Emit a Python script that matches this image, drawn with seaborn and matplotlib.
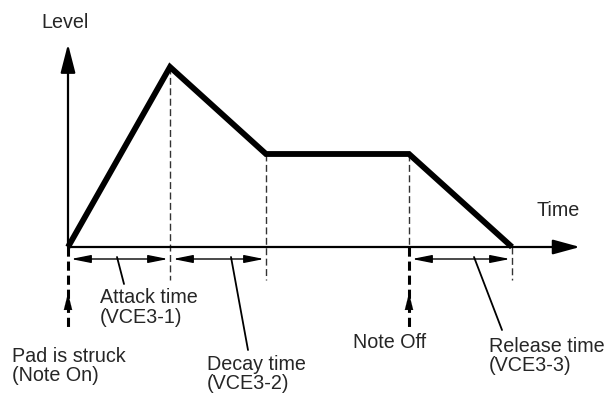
import numpy as np
import pandas as pd
import matplotlib
matplotlib.use("Agg")
import matplotlib.pyplot as plt
import seaborn as sns

# envelope points (time, level)
env_time = [0, 102, 198, 341, 444]
env_level = [0, 180, 93, 93, 0]
stage_names = ["Attack", "Decay", "Sustain", "Release"]

# stage boundaries marked with dashed lines
attack_end = env_time[1]
decay_end = env_time[2]
note_off = env_time[3]
release_end = env_time[4]

labels = ["Attack time\n(VCE3-1)", "Decay time\n(VCE3-2)", "Release time\n(VCE3-3)"]
event_labels = ["Pad is struck\n(Note On)", "Note Off"]
axis_labels = ["Level", "Time"]

sns.set_style("white")
plt.rcParams["font.family"] = ["Liberation Sans", "DejaVu Sans"]

fig = plt.figure(figsize=(6.07, 3.96), dpi=100)
ax = fig.add_axes([0, 0, 1, 1])
ax.set_xlim(-68, 539)
ax.set_ylim(-149, 247)
ax.axis("off")

fs = 14.2
ink = "black"

# axes with arrow heads
def arrow(x0, y0, x1, y1, hl, hw, lw, style="-|>"):
    ax.annotate("", xy=(x1, y1), xytext=(x0, y0),
                arrowprops=dict(arrowstyle=f"{style},head_length={hl},head_width={hw}",
                                color=ink, lw=lw, shrinkA=0, shrinkB=0,
                                mutation_scale=10))

arrow(0, 0, 0, 203, 1.75, 0.45, 1.6)
arrow(0, 0, 512, 0, 1.65, 0.45, 1.6)

# dashed guide lines
dash = dict(color="#333333", lw=1.0, ls=(0, (5, 2.5)))
ax.plot([attack_end, attack_end], [env_level[1], -33], **dash)
ax.plot([decay_end, decay_end], [env_level[2], -33], **dash)
ax.plot([note_off, note_off], [env_level[3], 0], **dash)
ax.plot([release_end, release_end], [0, -33], **dash)

# event markers (Note On / Note Off)
bold = dict(color=ink, lw=2.2, ls=(0, (3, 1.6)))
for x in [0, note_off]:
    ax.plot([x, x], [0, -83], **bold)
    arrow(x, -64, x, -46, 1.2, 0.3, 0.1)

# envelope
df = pd.DataFrame({"time": env_time, "level": env_level})
sns.lineplot(data=df, x="time", y="level", ax=ax, color=ink, lw=4.2,
             sort=False, solid_joinstyle="miter", solid_capstyle="butt")

# duration arrows
for a, b in [(0, attack_end), (attack_end, decay_end), (note_off, release_end)]:
    arrow(a + 3, -12, b - 2, -12, 1.2, 0.24, 1.0, style="<|-|>")

# leader lines
ax.plot([49, 56], [-10, -37], color=ink, lw=1.3)
ax.plot([163, 180], [-10, -103], color=ink, lw=1.3)
ax.plot([406, 434], [-10, -83], color=ink, lw=1.3)

# text
ax.text(32, -60.5, labels[0], fontsize=fs, ha="left", va="center", linespacing=1.02)
ax.text(139, -127, labels[1], fontsize=fs, ha="left", va="center", linespacing=1.02)
ax.text(421, -109, labels[2], fontsize=fs, ha="left", va="center", linespacing=1.02)
ax.text(-56, -119, event_labels[0], fontsize=fs, ha="left", va="center", linespacing=1.02)
ax.text(285, -96, event_labels[1], fontsize=fs, ha="left", va="center")
ax.text(-3, 224, axis_labels[0], fontsize=fs, ha="center", va="center")
ax.text(490, 37, axis_labels[1], fontsize=fs, ha="center", va="center")

fig.savefig("out.png", dpi=100)
